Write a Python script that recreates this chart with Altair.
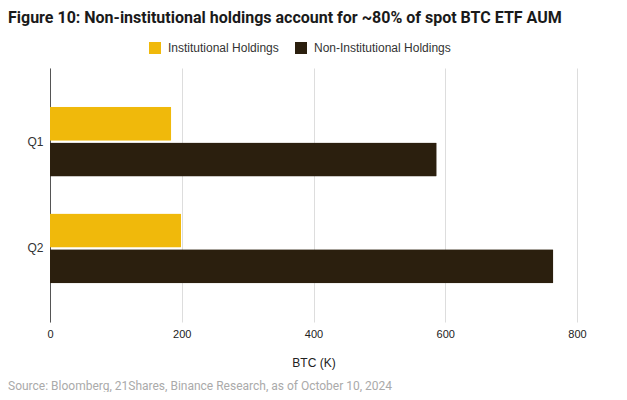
import altair as alt
import pandas as pd

quarters = ["Q1", "Q2"]
series = ["Institutional Holdings", "Non-Institutional Holdings"]
institutional = [184, 199]
non_institutional = [587, 764]
x_ticks = [0, 200, 400, 600, 800]
colors = ["#F0B90B", "#2B1F0E"]

rows = []
for i, q in enumerate(quarters):
    rows.append({"Quarter": q, "Series": series[0], "BTC": institutional[i]})
    rows.append({"Quarter": q, "Series": series[1], "BTC": non_institutional[i]})
df = pd.DataFrame(rows)

W, H = 527, 254
FONT = "Liberation Sans"

bars = alt.Chart(df).mark_bar(cornerRadiusEnd=1).encode(
    y=alt.Y(
        "Quarter:N",
        sort=quarters,
        scale=alt.Scale(paddingInner=0.346, paddingOuter=0.362),
        axis=alt.Axis(
            title=None, ticks=False, domain=True, domainColor="#555555",
            labelFontSize=12, labelColor="#333333", labelPadding=7, labelFont=FONT,
        ),
    ),
    yOffset=alt.YOffset("Series:N", sort=series, scale=alt.Scale(paddingInner=0.05)),
    x=alt.X(
        "BTC:Q",
        scale=alt.Scale(domain=[0, 800], nice=False),
        axis=alt.Axis(
            values=x_ticks, title="BTC (K)", grid=True, gridColor="#dddddd",
            domain=False, ticks=False, labelFontSize=11, labelColor="#222222",
            labelPadding=6, labelFont=FONT, labelFlush=False, titleFont=FONT, titleFontSize=12,
            titleFontWeight="normal", titleColor="#222222", titlePadding=18,
        ),
    ),
    color=alt.Color(
        "Series:N",
        sort=series,
        scale=alt.Scale(domain=series, range=colors),
        legend=alt.Legend(
            title=None, orient="none", direction="horizontal",
            legendX=99, legendY=-26, symbolType="square", symbolSize=144,
            symbolStrokeWidth=0, labelFontSize=12, labelFont=FONT,
            labelColor="#333333", labelOffset=7, columnPadding=16,
        ),
    ),
)

source = alt.Chart(pd.DataFrame({"t": ["Source: Bloomberg, 21Shares, Binance Research, as of October 10, 2024"]})).mark_text(
    align="left", baseline="alphabetic", fontSize=12, font="Roboto", color="#aaaaaa"
).encode(text="t:N", x=alt.value(-42), y=alt.value(H + 68))

chart = alt.layer(bars, source).properties(
    width=W,
    height=H,
    padding={"left": 42, "top": 60, "right": 42, "bottom": 70},
    autosize=alt.AutoSizeParams(type="none"),
    title=alt.TitleParams(
        "Figure 10: Non-institutional holdings account for ~80% of spot BTC ETF AUM",
        anchor="start", frame="group", dx=-42, offset=16, fontSize=16,
        font="Roboto", fontWeight="bold", color="#1a1a1a",
    ),
).configure_view(stroke=None)

chart.save("out.html", embed_options={"renderer": "svg", "actions": False})
